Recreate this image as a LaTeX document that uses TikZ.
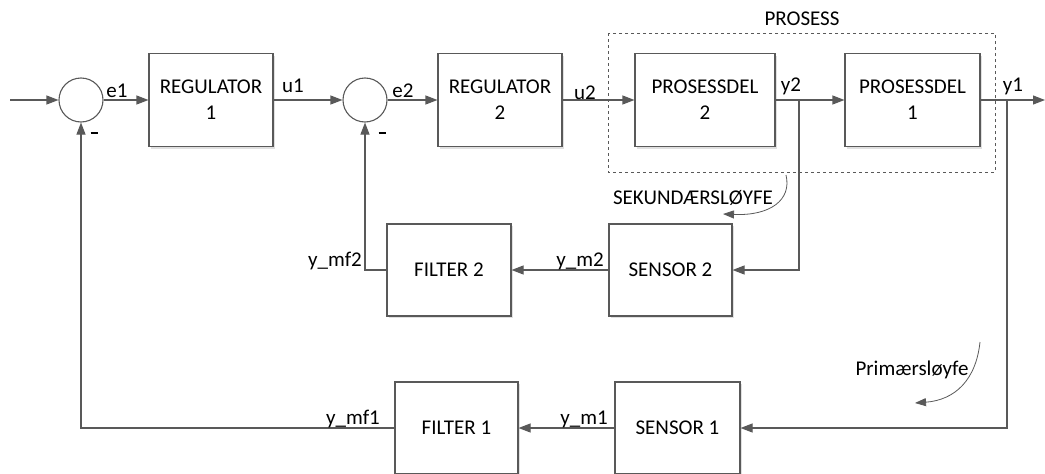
\documentclass[tikz,border=0pt]{standalone}
\usepackage{fontspec}
\setmainfont{Carlito}
\usetikzlibrary{arrows.meta,shadows}
\definecolor{linegray}{HTML}{595959}
\begin{document}
\begin{tikzpicture}[x=1pt,y=-1pt,
  font=\fontsize{21}{26}\selectfont,
  line width=1.1pt,
  blk/.style={draw=linegray,fill=white,rectangle,minimum height=93pt,align=center,
    drop shadow={shadow xshift=2pt,shadow yshift=-2pt,fill=black,opacity=0.12}},
  sum/.style={draw=linegray,fill=white,circle,minimum size=44pt,inner sep=0pt},
  arr/.style={draw=linegray,-{Triangle[length=12pt,width=9pt]}},
  lbl/.style={inner sep=0pt},
  loopar/.style={draw=linegray,line width=0.8pt,-{Triangle[length=11pt,width=8pt]}}]
\useasboundingbox (0,0) rectangle (1045,474);

% process boundary
\draw[linegray,dashed,line width=0.8pt] (608,33) rectangle (995,172);
\node[lbl] (prosess) at (802,19) {PROSESS};

% forward path
\coordinate (inp) at (10,100);
\node[sum] (s1) at (81,100) {};
\node[blk,minimum width=124pt] (r1) at (211,100) {REGULATOR\\1};
\node[sum] (s2) at (365,100) {};
\node[blk,minimum width=124pt] (r2) at (500,100) {REGULATOR\\2};
\node[blk,minimum width=140pt] (p2) at (705,100) {PROSESSDEL\\2};
\node[blk,minimum width=135pt] (p1) at (912.5,100) {PROSESSDEL\\1};
\coordinate (b2) at (799,100);
\coordinate (b1) at (1007,100);
\coordinate (out) at (1045,100);

% feedback blocks
\node[blk,minimum width=124pt,minimum height=92pt] (f2) at (449,270) {FILTER 2};
\node[blk,minimum width=123pt,minimum height=92pt] (sn2) at (670.5,270) {SENSOR 2};
\node[blk,minimum width=123pt,minimum height=92pt] (f1) at (456.5,428) {FILTER 1};
\node[blk,minimum width=125pt,minimum height=92pt] (sn1) at (677.5,428) {SENSOR 1};

% connectors
\draw[arr] (inp) -- (s1.west);
\draw[arr] (s1.east) -- (r1.west);
\draw[arr] (r1.east) -- (s2.west);
\draw[arr] (s2.east) -- (r2.west);
\draw[arr] (r2.east) -- (p2.west);
\draw[arr] (p2.east) -- (p1.west);
\draw[arr] (p1.east) -- (out);
\draw[arr] (b2) |- (sn2.east);
\draw[arr] (sn2.west) -- (f2.east);
\draw[arr] (f2.west) -| (s2.south);
\draw[arr] (b1) |- (sn1.east);
\draw[arr] (sn1.west) -- (f1.east);
\draw[arr] (f1.west) -| (s1.south);

% signal labels
\node[lbl] (le1) at (117,91) {e1};
\node[lbl] (lu1) at (293,86) {u1};
\node[lbl] (le2) at (403,91) {e2};
\node[lbl] (lu2) at (585,93) {u2};
\node[lbl] (ly2) at (791,86) {y2};
\node[lbl] (ly1) at (1013,86) {y1};
\node[lbl] (lymf2) at (335,261) {y\_mf2};
\node[lbl] (lym2) at (580,261) {y\_m2};
\node[lbl] (lymf1) at (353,419) {y\_mf1};
\node[lbl] (lym1) at (584,419) {y\_m1};
\node[lbl] (m1) at (94,133) {\rule{7pt}{2.6pt}};
\node[lbl] (m2) at (382,133) {\rule{7pt}{2.6pt}};

% loop annotations
\node[lbl] (sek) at (693,198) {SEKUNDÆRSLØYFE};
\draw[loopar] (786,175) .. controls (792,200) and (770,216) .. (723,214);
\node[lbl] (prim) at (912,370) {Primærsløyfe};
\draw[loopar] (980,342) .. controls (976,380) and (955,400) .. (915,403);
\end{tikzpicture}
\end{document}
